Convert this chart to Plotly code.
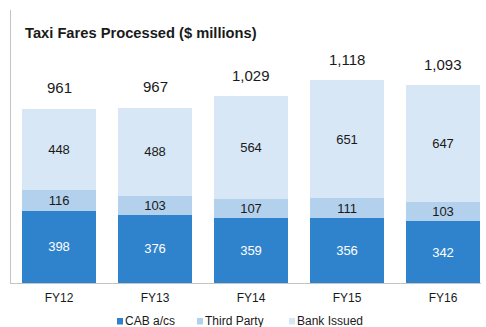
import plotly.graph_objects as go

# Fiscal years and the three payment sources ($ millions)
years = ["FY12", "FY13", "FY14", "FY15", "FY16"]
cab_accounts = [398, 376, 359, 356, 342]
third_party = [116, 103, 107, 111, 103]
bank_issued = [448, 488, 564, 651, 647]
totals = [961, 967, 1029, 1118, 1093]

series_names = ["CAB a/cs", "Third Party", "Bank Issued"]
colors = ["#2F83CD", "#B3D1EC", "#D7E7F6"]
label_colors = ["#FFFFFF", "#1A1A1A", "#1A1A1A"]

FONT = "Liberation Sans, Arial, sans-serif"

fig = go.Figure()
for name, vals, col, lc in zip(series_names,
                               [cab_accounts, third_party, bank_issued],
                               colors, label_colors):
    fig.add_trace(go.Bar(
        x=years, y=vals, name=name,
        marker=dict(color=col, line=dict(width=0)),
        width=0.77,
        text=[str(v) for v in vals],
        textposition="inside",
        insidetextanchor="middle",
        textangle=0,
        constraintext="none",
        textfont=dict(family=FONT, size=13, color=lc),
        showlegend=False,
        hoverinfo="skip",
    ))

# Stack heights used to place the total labels above each bar
stack_tops = [a + b + c for a, b, c in zip(cab_accounts, third_party, bank_issued)]
for yr, top, tot in zip(years, stack_tops, totals):
    fig.add_annotation(
        x=yr, y=top, text=f"{tot:,}", showarrow=False,
        yanchor="middle", yshift=21,
        font=dict(family=FONT, size=15, color="#1A1A1A"),
    )

# Plot area geometry (pixels) for paper-coordinate placement
L, R, T, B = 11, 481, 10, 283
W, H = R - L, B - T


def px(x):
    return (x - L) / W


def py(y):
    return (B - y) / H


# Chart title
fig.add_annotation(
    xref="paper", yref="paper", x=px(23), y=py(33),
    xanchor="left", yanchor="middle", showarrow=False,
    text="<b>Taxi Fares Processed ($ millions)</b>",
    font=dict(family=FONT, size=14.7, color="#1A1A1A"),
)

# Legend: small square swatches with labels along the bottom
legend_items = [(117, 124), (197, 204), (289, 296)]
for (sx, tx), name, col in zip(legend_items, series_names, colors):
    fig.add_shape(
        type="rect", xref="paper", yref="paper",
        x0=px(sx), x1=px(sx + 6), y0=py(324.5), y1=py(318),
        fillcolor=col, line=dict(width=0),
    )
    fig.add_annotation(
        xref="paper", yref="paper", x=px(tx), y=py(320.5),
        xanchor="left", yanchor="middle", showarrow=False,
        height=13, borderpad=0, valign="middle",
        text=name, font=dict(family=FONT, size=12, color="#1A1A1A"),
    )

fig.update_layout(
    barmode="stack",
    width=486, height=327,
    margin=dict(l=L, r=486 - R, t=T, b=327 - B),
    paper_bgcolor="white", plot_bgcolor="white",
    showlegend=False,
    xaxis=dict(
        range=[-0.5, -0.5 + W / 96], showgrid=False, zeroline=False,
        showline=True, linecolor="#C4C4C4", linewidth=1,
        ticks="", ticklabelstandoff=4,
        tickfont=dict(family=FONT, size=12, color="#1A1A1A"),
        fixedrange=True,
    ),
    yaxis=dict(
        range=[0, H / 0.1812], showgrid=False, zeroline=False,
        showline=True, linecolor="#C4C4C4", linewidth=1,
        showticklabels=False, ticks="", fixedrange=True,
    ),
)

fig.write_html("out.html")
